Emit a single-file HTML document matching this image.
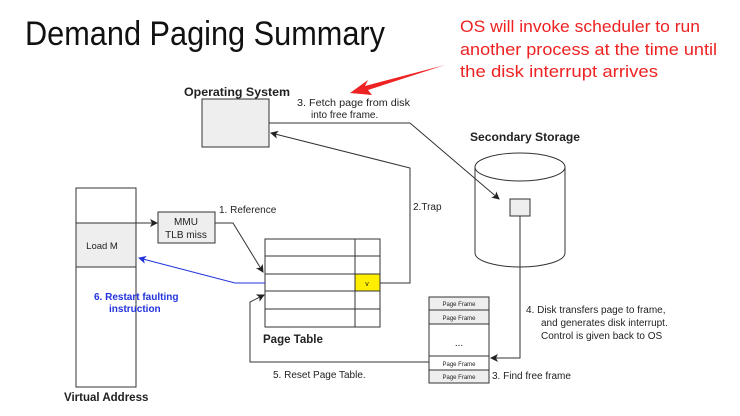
<!DOCTYPE html>
<html><head><meta charset="utf-8"><style>body{margin:0;background:#fff}svg{display:block}</style></head>
<body>
<svg width="740" height="416" viewBox="0 0 740 416" xmlns="http://www.w3.org/2000/svg" font-family="Liberation Sans, sans-serif">
<defs>
<marker id="a" markerWidth="8" markerHeight="8" refX="7" refY="4" orient="auto" markerUnits="userSpaceOnUse"><path d="M0,0 L8,4 L0,8 L2,4z" fill="#222"/></marker>
<marker id="b" markerWidth="8" markerHeight="8" refX="7" refY="4" orient="auto" markerUnits="userSpaceOnUse"><path d="M0,0 L8,4 L0,8 L2,4z" fill="#2233dd"/></marker>
</defs>
<text x="25" y="45" font-size="34" textLength="360" lengthAdjust="spacingAndGlyphs" fill="#111">Demand Paging Summary</text>
<g fill="#ee2222" font-size="17">
<text x="460" y="32" textLength="240" lengthAdjust="spacingAndGlyphs">OS will invoke scheduler to run</text>
<text x="460" y="55" textLength="257" lengthAdjust="spacingAndGlyphs">another process at the time until</text>
<text x="460" y="77" textLength="198" lengthAdjust="spacingAndGlyphs">the disk interrupt arrives</text>
</g>
<path d="M445,65 L365,86 L368,80 L350,93 L372,95 L368,90 Z" fill="#ee2222"/>
<g stroke="#333" fill="none" stroke-width="1">
<rect x="202" y="99" width="67" height="48" fill="#eee"/>
<rect x="76" y="188" width="60" height="199" fill="#fff"/>
<rect x="76" y="223" width="60" height="44" fill="#eee"/>
<rect x="158" y="212" width="57" height="31" fill="#eee"/>
<rect x="265" y="239" width="115" height="88" fill="#fff"/>
<path d="M265,256H380M265,274H380M265,291H380M265,309H380M355,239V327"/>
<rect x="355" y="274" width="25" height="17" fill="#ffee00"/>
<path d="M475,167 V253 A45,14 0 0 0 565,253 V167"/>
<ellipse cx="520" cy="167" rx="45" ry="14" fill="#fff"/>
<rect x="510" y="199" width="20" height="17" fill="#eee"/>
<rect x="429" y="297" width="60" height="86" fill="#fff"/>
<rect x="429" y="297" width="60" height="13" fill="#eee"/>
<rect x="429" y="310" width="60" height="14" fill="#eee"/>
<rect x="429" y="370" width="60" height="13" fill="#eee"/>
<path d="M429,356H489"/>
<path d="M136,223H157" marker-end="url(#a)"/>
<path d="M215,223H233L263,272" marker-end="url(#a)"/>
<path d="M380,283H410V168L271,133" marker-end="url(#a)"/>
<path d="M269,123H410L499,199" marker-end="url(#a)"/>
<path d="M520,216V358H491" marker-end="url(#a)"/>
<path d="M429,362H250V302L264,295" marker-end="url(#a)"/>
<path d="M265,283H235L139,258" stroke="#2233dd" marker-end="url(#b)"/>
</g>
<g font-size="10" fill="#222">
<text x="184" y="96" font-weight="bold" font-size="11.5" textLength="106" lengthAdjust="spacingAndGlyphs">Operating System</text>
<text x="297" y="106" textLength="113" lengthAdjust="spacingAndGlyphs">3. Fetch page from disk</text>
<text x="311" y="118">into free frame.</text>
<text x="470" y="141" font-weight="bold" font-size="11.5" textLength="110" lengthAdjust="spacingAndGlyphs">Secondary Storage</text>
<text x="219" y="213">1. Reference</text>
<text x="413" y="210">2.Trap</text>
<text x="526" y="313">4. Disk transfers page to frame,</text>
<text x="541" y="326">and generates disk interrupt.</text>
<text x="541" y="339">Control is given back to OS</text>
<text x="492" y="379">3. Find free frame</text>
<text x="273" y="378">5. Reset Page Table.</text>
<text x="263" y="343" font-weight="bold" font-size="11.5">Page Table</text>
<text x="64" y="401" font-weight="bold" font-size="11.5">Virtual Address</text>
<text x="94" y="300" fill="#2233dd" font-weight="bold">6. Restart faulting</text>
<text x="109" y="312" fill="#2233dd" font-weight="bold">instruction</text>
</g>
<g font-size="10" fill="#222" text-anchor="middle">
<text x="186" y="225">MMU</text><text x="186" y="238">TLB miss</text>
<text x="102" y="249" font-size="9.5">Load M</text>
<text x="367" y="286" font-size="7">v</text>
<g font-size="6"><text x="459" y="306">Page Frame</text><text x="459" y="320">Page Frame</text><text x="459" y="366">Page Frame</text><text x="459" y="379">Page Frame</text></g>
<text x="459" y="346">...</text>
</g>
</svg>
</body></html>
